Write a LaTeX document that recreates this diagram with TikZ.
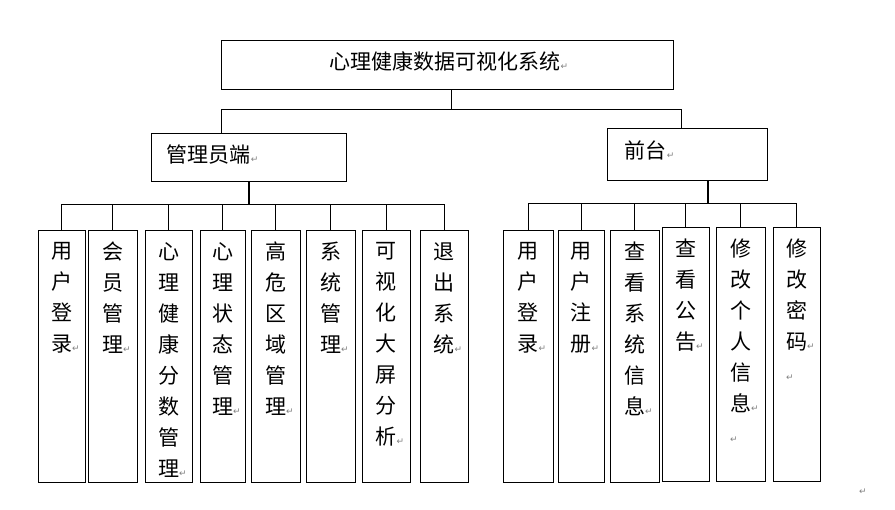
\documentclass[tikz,border=0pt]{standalone}
\usepackage{fontspec}
\usepackage{tikz}
\newfontfamily\cjk{Noto Sans CJK SC}
\newfontfamily\symfont{DejaVu Sans}
\newcommand{\retmark}{{\symfont\fontsize{9}{9}\selectfont\textcolor{gray}{↵}}}
\newcommand{\lastret}{\rlap{\retmark}}
\tikzset{
  unitbox/.style={draw, line width=0.9pt, inner sep=0pt},
  leafbox/.style={unitbox, minimum height=252pt},
  word/.style={font={\cjk\fontsize{21}{31}\selectfont}, inner sep=0pt},
  leaftext/.style={word, align=center, anchor=north},
  link/.style={line width=0.9pt},
  bus/.style={line width=2pt}
}

\begin{document}
\begin{tikzpicture}[x=1pt,y=-1pt]
\useasboundingbox (0,0) rectangle (895,510);
% top level
\node[unitbox, minimum width=452pt, minimum height=49pt] (top) at (447,64.5) {};
\node[word] (toptext) at ([xshift=2pt,yshift=3pt]top.center) {心理健康数据可视化系统\retmark};
% second level
\node[unitbox, minimum width=195pt, minimum height=48pt] (admin) at (248.5,157) {};
\node[word, anchor=west] (admintext) at ([xshift=16pt,yshift=2pt]admin.west) {管理员端\retmark};
\node[unitbox, minimum width=160pt, minimum height=52pt] (front) at (687,154) {};
\node[word, anchor=west] (fronttext) at ([xshift=18pt,yshift=4pt]front.west) {前台\retmark};
\draw[link] ([xshift=4pt]top.south) -- ++(0,20) coordinate (jtop);
\draw[link] ([xshift=-27.5pt]admin.north) |- (jtop) -| ([xshift=-6pt]front.north);
% admin leaves
\node[leafbox, minimum width=47pt] (a1) at (61.5,356) {};
\node[leafbox, minimum width=49pt] (a2) at (112.5,356) {};
\node[leafbox, minimum width=47pt] (a3) at (168.5,356) {};
\node[leafbox, minimum width=45pt] (a4) at (222.5,356) {};
\node[leafbox, minimum width=49pt] (a5) at (275.5,356) {};
\node[leafbox, minimum width=49pt] (a6) at (330.5,356) {};
\node[leafbox, minimum width=48pt] (a7) at (386,356) {};
\node[leafbox, minimum width=48pt] (a8) at (444,356) {};
\node[leaftext] (a1t) at ([yshift=-12.5pt]a1.north) {用\\户\\登\\录\lastret};
\node[leaftext] (a2t) at ([yshift=-12.5pt]a2.north) {会\\员\\管\\理\lastret};
\node[leaftext] (a3t) at ([yshift=-12.5pt]a3.north) {心\\理\\健\\康\\分\\数\\管\\理\lastret};
\node[leaftext] (a4t) at ([yshift=-12.5pt]a4.north) {心\\理\\状\\态\\管\\理\lastret};
\node[leaftext] (a5t) at ([yshift=-12.5pt]a5.north) {高\\危\\区\\域\\管\\理\lastret};
\node[leaftext] (a6t) at ([yshift=-12.5pt]a6.north) {系\\统\\管\\理\lastret};
\node[leaftext] (a7t) at ([yshift=-12.5pt]a7.north) {可\\视\\化\\大\\屏\\分\\析\lastret};
\node[leaftext] (a8t) at ([yshift=-12.5pt]a8.north) {退\\出\\系\\统\lastret};
\draw[bus] (admin.south) -- ++(0,23) coordinate (jadmin);
\draw[link] (jadmin) -| (a1.north) (jadmin) -| (a2.north) (jadmin) -| (a3.north)
  (jadmin) -| (a4.north) (jadmin) -| (a5.north) (jadmin) -| (a6.north)
  (jadmin) -| (a7.north) (jadmin) -| (a8.north);
% front leaves
\node[leafbox, minimum width=50pt] (f1) at (528,356) {};
\node[leafbox, minimum width=46pt] (f2) at (581,356) {};
\node[leafbox, minimum width=49pt] (f3) at (634.5,356) {};
\node[leafbox, minimum width=47pt, minimum height=254pt] (f4) at (685.5,354) {};
\node[leafbox, minimum width=49pt, minimum height=254pt] (f5) at (740.5,354) {};
\node[leafbox, minimum width=47pt, minimum height=254pt] (f6) at (796.5,354) {};
\node[leaftext] (f1t) at ([yshift=-12.5pt]f1.north) {用\\户\\登\\录\lastret};
\node[leaftext] (f2t) at ([yshift=-12.5pt]f2.north) {用\\户\\注\\册\lastret};
\node[leaftext] (f3t) at ([yshift=-12.5pt]f3.north) {查\\看\\系\\统\\信\\息\lastret};
\node[leaftext] (f4t) at ([yshift=-12.5pt]f4.north) {查\\看\\公\\告\lastret};
\node[leaftext] (f5t) at ([yshift=-12.5pt]f5.north) {修\\改\\个\\人\\信\\息\lastret\\\makebox[1em][l]{\retmark}};
\node[leaftext] (f6t) at ([yshift=-12.5pt]f6.north) {修\\改\\密\\码\lastret\\\makebox[1em][l]{\retmark}};
\draw[bus] ([xshift=21pt]front.south) -- ++(0,23) coordinate (jfront);
\draw[link] (jfront) -| (f1.north) (jfront) -| (f2.north) (jfront) -| (f3.north)
  (jfront) -| (f4.north) (jfront) -| (f5.north) (jfront) -| (f6.north);
\node[inner sep=0pt] (lastmark) at (863,492) {\retmark};
\end{tikzpicture}
\end{document}
